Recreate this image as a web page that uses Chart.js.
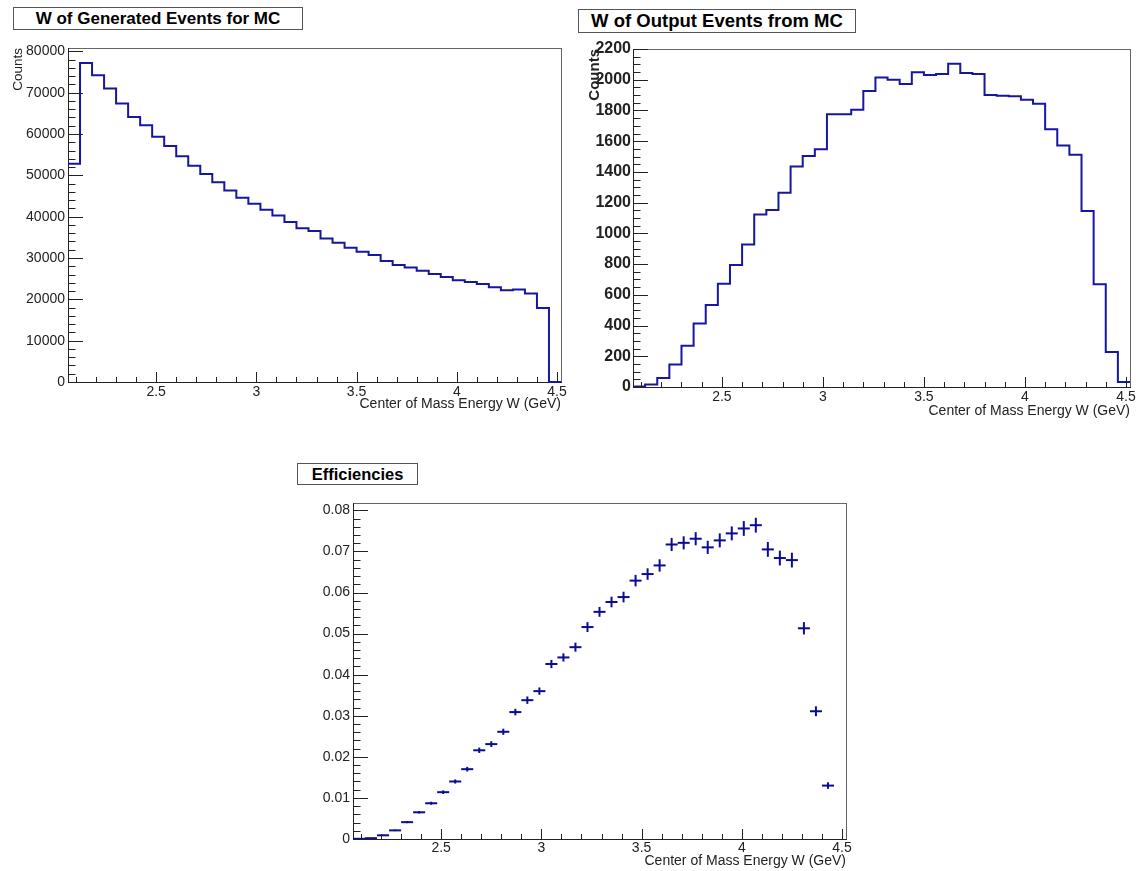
<!DOCTYPE html>
<html>
<head>
<meta charset="utf-8">
<title>W of generated / output events and efficiencies</title>
<script src="https://cdn.jsdelivr.net/npm/chart.js@4.4.1/dist/chart.umd.min.js"></script>
<style>
  html, body { margin: 0; padding: 0; background: #fff; overflow: hidden; }
  body { position: relative; width: 1136px; height: 871px;
         font-family: 'Liberation Sans', Arial, Helvetica, sans-serif; }
  canvas { position: absolute; }
  .ptitle { position: absolute; z-index: 2; box-sizing: border-box; border: 1px solid #555;
            background: #fff; color: #000; font-weight: bold; line-height: 1;
            display: flex; align-items: center; justify-content: center; white-space: nowrap; }
</style>
</head>
<body>
<div class="ptitle" style="left:13px; top:7px; width:290px; height:23px; font-size:17px;">W of Generated Events for MC</div>
<div class="ptitle" style="left:578px; top:9px; width:278px; height:24px; font-size:18.5px;">W of Output Events from MC</div>
<div class="ptitle" style="left:297px; top:463px; width:121px; height:22px; font-size:16.5px;">Efficiencies</div>

<canvas id="genChart" width="580" height="430" style="left:0; top:0;"></canvas>
<canvas id="outChart" width="570" height="430" style="left:580px; top:0;"></canvas>
<canvas id="effChart" width="580" height="421" style="left:290px; top:450px;"></canvas>

<script>
// ---- data ---------------------------------------------------------------
// 41 bins of W (GeV) from 2.06 to 4.52, width 0.06
const wLow = 2.06;
const wHigh = 4.52;
const binWidth = 0.06;

// generated MC events per W bin
const generatedCounts = [
  52800, 77200, 74200, 71000, 67400, 64100, 62100, 59300, 57100, 54600,
  52300, 50300, 48300, 46300, 44600, 43100, 41700, 40300, 38700, 37200,
  36500, 34700, 33700, 32500, 31500, 30700, 29300, 28300, 27700, 26900,
  26100, 25400, 24600, 24200, 23700, 22900, 22200, 22400, 21400, 17900,
  0
];

// reconstructed (output) events per W bin
const outputCounts = [
  3, 17, 59, 146, 268, 413, 533, 672, 794, 928,
  1122, 1152, 1265, 1435, 1504, 1548, 1776, 1776, 1804, 1926,
  2015, 2000, 1972, 2048, 2030, 2037, 2104, 2043, 2037, 1900,
  1896, 1893, 1870, 1843, 1678, 1572, 1511, 1146, 668, 228,
  33
];

// efficiency per bin (last bin has no generated events -> no point)
const efficiency = [
  0.00005, 0.0002, 0.0009, 0.0021, 0.0041, 0.0065, 0.0087, 0.0114, 0.0140, 0.0170,
  0.0216, 0.0231, 0.0261, 0.0309, 0.0338, 0.0360, 0.0426, 0.0442, 0.0467, 0.0516,
  0.0553, 0.0577, 0.0589, 0.0629, 0.0645, 0.0666, 0.0717, 0.0721, 0.0731, 0.0710,
  0.0727, 0.0744, 0.0756, 0.0764, 0.0705, 0.0684, 0.0679, 0.0513, 0.0311, 0.0130
];
const efficiencyErr = [
  0.00003, 0.00005, 0.00012, 0.00018, 0.00025, 0.0003, 0.00037, 0.00044, 0.0005, 0.00056,
  0.00065, 0.0007, 0.00075, 0.0008, 0.0009, 0.0009, 0.001, 0.001, 0.0011, 0.0012,
  0.0012, 0.0013, 0.0013, 0.0014, 0.0014, 0.0015, 0.0016, 0.0016, 0.0016, 0.0016,
  0.0017, 0.0017, 0.0018, 0.0018, 0.0018, 0.0018, 0.0018, 0.0015, 0.0012, 0.0008
];

// tick labels
const wTicks = [2.5, 3, 3.5, 4, 4.5];
const genTicks = [0, 10000, 20000, 30000, 40000, 50000, 60000, 70000, 80000];
const outTicks = [0, 200, 400, 600, 800, 1000, 1200, 1400, 1600, 1800, 2000, 2200];
const effTicks = [0, 0.01, 0.02, 0.03, 0.04, 0.05, 0.06, 0.07, 0.08];

// ---- style --------------------------------------------------------------
const histBlue = '#1616a2';
const markBlue = '#0c0c92';
const textCol  = '#222';

Chart.defaults.font.family = "'Liberation Sans', Arial, Helvetica, sans-serif";
Chart.defaults.color = textCol;

// ROOT-like frame with inward major/minor ticks, drawn from the chart scales
function eachTick(min, max, minor, major, fn) {
  for (let i = Math.ceil(min / minor - 1e-6); i * minor <= max + 1e-9; i++) {
    const v = i * minor;
    const r = v / major;
    fn(v, Math.abs(r - Math.round(r)) < 1e-6);
  }
}

const rootAxes = {
  id: 'rootAxes',
  beforeDatasetsDraw(chart) {
    const { ctx, chartArea: a } = chart;
    ctx.save();
    ctx.lineWidth = 1;
    ctx.strokeStyle = '#666';
    ctx.strokeRect(a.left + 0.5, a.top + 0.5, a.right - a.left, a.bottom - a.top);
    ctx.strokeStyle = textCol;
    ctx.beginPath();
    ctx.moveTo(a.left + 0.5, a.top);
    ctx.lineTo(a.left + 0.5, a.bottom + 0.5);
    ctx.lineTo(a.right + 1, a.bottom + 0.5);
    ctx.stroke();
    ctx.restore();
  },
  afterDatasetsDraw(chart, args, o) {
    const { ctx, chartArea: a, scales: { x, y } } = chart;
    ctx.save();
    ctx.lineWidth = 1;
    ctx.strokeStyle = textCol;
    ctx.beginPath();
    eachTick(x.min, x.max, o.xMinor, o.xMajor, (v, major) => {
      const px = Math.round(x.getPixelForValue(v)) + 0.5;
      ctx.moveTo(px, a.bottom);
      ctx.lineTo(px, a.bottom - (major ? o.xLen : o.xLen / 2));
    });
    eachTick(y.min, y.max, o.yMinor, o.yMajor, (v, major) => {
      const py = Math.round(y.getPixelForValue(v)) + 0.5;
      ctx.moveTo(a.left, py);
      ctx.lineTo(a.left + (major ? o.yLen : o.yLen / 2), py);
    });
    ctx.stroke();
    ctx.restore();
  },
};
Chart.register(rootAxes);

// ---- helpers ------------------------------------------------------------

/** step outline: one point per left bin edge plus the closing edge */
function histPoints(counts) {
  const pts = counts.map((c, i) => ({ x: wLow + i * binWidth, y: c }));
  pts.push({ x: wHigh, y: counts[counts.length - 1] });
  return pts;
}

function pxSpan(scale, d) {
  return Math.abs(scale.getPixelForValue(d) - scale.getPixelForValue(0));
}

function fixedTicks(list) {
  return (scale) => { scale.ticks = list.map(v => ({ value: v })); };
}

/**
 * common panel options
 * cfg: padding, yWidth, xHeight, yMax, yTicks, yFont, yTitle, axes ...
 */
function panelOptions(cfg) {
  return {
    responsive: false,
    devicePixelRatio: 1,
    animation: false,
    events: [],
    layout: { padding: cfg.padding },
    plugins: {
      legend:  { display: false },
      tooltip: { enabled: false },
      rootAxes: cfg.axes,
    },
    scales: {
      x: {
        type: 'linear', min: wLow, max: wHigh, offset: false,
        grid:   { display: false, drawTicks: false },
        border: { display: false },
        afterBuildTicks: fixedTicks(wTicks),
        afterFit: (s) => { s.height = cfg.xHeight; },
        ticks: {
          autoSkip: false, maxRotation: 0, padding: cfg.xPad,
          color: textCol, font: { size: 14 },
          callback: (v) => String(v),
        },
        title: {
          display: true, text: 'Center of Mass Energy W (GeV)', align: 'end',
          color: textCol, font: { size: 14 },
          padding: { top: 0, bottom: cfg.xTitlePad },
        },
      },
      y: {
        type: 'linear', min: 0, max: cfg.yMax,
        grid:   { display: false, drawTicks: false },
        border: { display: false },
        afterBuildTicks: fixedTicks(cfg.yTicks),
        afterFit: (s) => { s.width = cfg.yWidth; },
        ticks: {
          autoSkip: false, padding: cfg.yPad,
          color: textCol, font: cfg.yFont,
          callback: (v) => String(v),
        },
        title: cfg.yTitle,
      },
    },
  };
}

// ---- W of generated events ---------------------------------------------
new Chart(document.getElementById('genChart'), {
  type: 'line',
  data: {
    datasets: [{
      data: histPoints(generatedCounts),
      stepped: true,
      borderColor: histBlue,
      borderWidth: 2,
      pointRadius: 0,
      fill: false,
      clip: false,
    }],
  },
  options: panelOptions({
    padding: { top: 48, right: 19, left: 0, bottom: 0 },
    yWidth: 68, xHeight: 48, xPad: 2, xTitlePad: 17,
    yMax: 80800, yTicks: genTicks, yPad: 3,
    yFont: { size: 14 },
    yTitle: { display: true, text: 'Counts', align: 'end', color: textCol,
              font: { size: 13.5 }, padding: { top: 10, bottom: 0 } },
    axes: { xMajor: 0.5, xMinor: 0.1, xLen: 10, yMajor: 10000, yMinor: 2000, yLen: 15 },
  }),
});

// ---- W of output events --------------------------------------------------
new Chart(document.getElementById('outChart'), {
  type: 'line',
  data: {
    datasets: [{
      data: histPoints(outputCounts),
      stepped: true,
      borderColor: histBlue,
      borderWidth: 2,
      pointRadius: 0,
      fill: false,
      clip: false,
    }],
  },
  options: panelOptions({
    padding: { top: 49, right: 20, left: 0, bottom: 0 },
    yWidth: 53, xHeight: 43, xPad: 2, xTitlePad: 10,
    yMax: 2200, yTicks: outTicks, yPad: 2,
    yFont: { size: 16, weight: 'bold' },
    yTitle: { display: true, text: 'Counts', align: 'end', color: textCol,
              font: { size: 15, weight: 'bold' }, padding: { top: 6, bottom: 0 } },
    axes: { xMajor: 0.5, xMinor: 0.1, xLen: 10, yMajor: 200, yMinor: 50, yLen: 15 },
  }),
});

// ---- efficiencies (points with bin-width and error bars) -----------------
const effPoints = efficiency.map((e, i) => ({ x: wLow + (i + 0.5) * binWidth, y: e }));

new Chart(document.getElementById('effChart'), {
  type: 'scatter',
  data: {
    datasets: [
      {
        // horizontal bar = bin width
        data: effPoints,
        showLine: false,
        pointStyle: 'line',
        pointRadius: (c) => pxSpan(c.chart.scales.x, binWidth) / 2,
        pointBorderColor: markBlue,
        pointBackgroundColor: markBlue,
        pointBorderWidth: 2,
      },
      {
        // vertical bar = statistical error
        data: effPoints,
        showLine: false,
        pointStyle: 'line',
        pointRotation: 90,
        pointRadius: (c) => pxSpan(c.chart.scales.y, efficiencyErr[c.dataIndex] || 0),
        pointBorderColor: markBlue,
        pointBackgroundColor: markBlue,
        pointBorderWidth: 2,
      },
    ],
  },
  options: panelOptions({
    padding: { top: 53, right: 24, left: 0, bottom: 0 },
    yWidth: 63, xHeight: 32, xPad: 1, xTitlePad: 1,
    yMax: 0.0818, yTicks: effTicks, yPad: 3,
    yFont: { size: 14 },
    yTitle: { display: false },
    axes: { xMajor: 0.5, xMinor: 0.1, xLen: 10, yMajor: 0.01, yMinor: 0.002, yLen: 15 },
  }),
});
</script>
</body>
</html>
